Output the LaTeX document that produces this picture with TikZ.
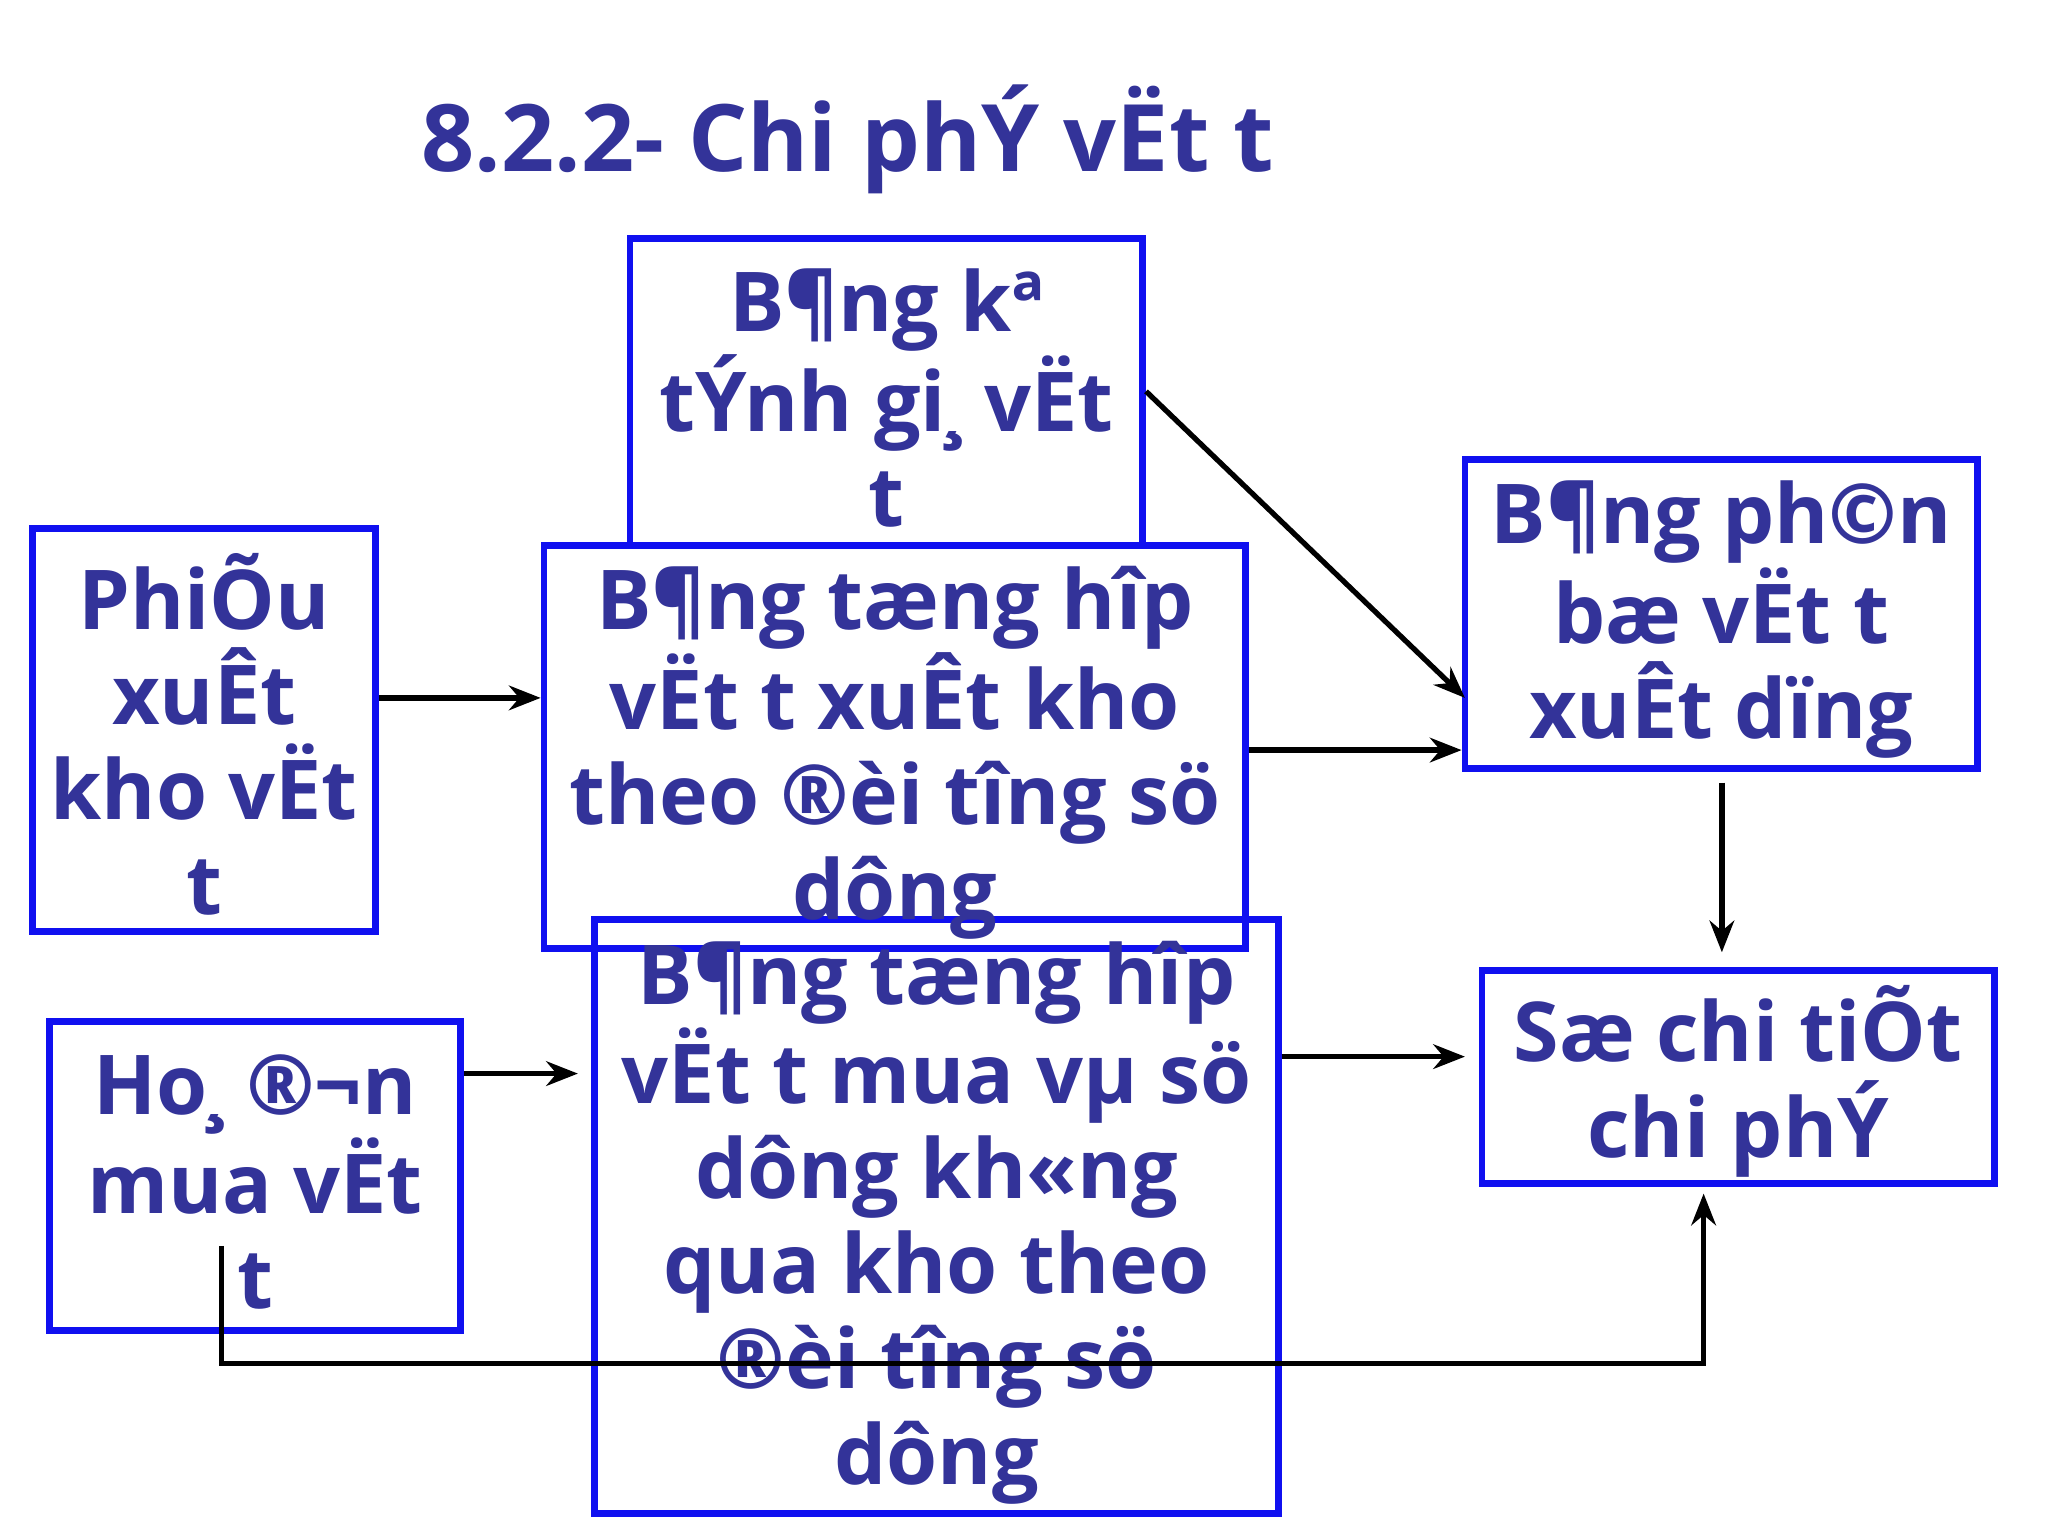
\documentclass[tikz,border=0pt]{standalone}
\usepackage{fontspec}
\setmainfont{Open Sans}
\usetikzlibrary{arrows.meta}
\definecolor{txt}{HTML}{333399}
\definecolor{bx}{HTML}{1010F0}
\begin{document}
\begin{tikzpicture}[x=0.013045cm,y=-0.013045cm,
  boxs/.style={draw=bx,line width=1.9pt,inner sep=0,minimum width=#1},
  tx/.style={text=txt,font=\bfseries\fontsize{23.5}{27.1}\selectfont,align=center,inner sep=0},
  arr/.style={line width=1.5pt,-{Stealth[length=9pt,width=7pt]}}]
\useasboundingbox (0,0) rectangle (1570,1177.5);
\node[text=txt,font=\bfseries\fontsize{26.5}{30}\selectfont] (title) at (650,107) {8.2.2- Chi phÝ vËt t};
% boxes
\node[boxs=393*0.013045cm,minimum height=235*0.013045cm] (top) at (679.5,300.5) {};
\node[boxs=263*0.013045cm,minimum height=309*0.013045cm] (phieu) at (156.5,559.5) {};
\node[boxs=538*0.013045cm,minimum height=309*0.013045cm] (b1) at (686,572.5) {};
\node[boxs=393*0.013045cm,minimum height=237*0.013045cm] (pb) at (1319.5,470.5) {};
\node[boxs=315*0.013045cm,minimum height=237*0.013045cm] (hd) at (195.5,901.5) {};
\node[boxs=524*0.013045cm,minimum height=455*0.013045cm] (b2) at (718,932.5) {};
\node[boxs=393*0.013045cm,minimum height=163*0.013045cm] (so) at (1332.5,825.5) {};
% texts
\node[tx] (ttop) at (679.5,305) {B¶ng kª\\tÝnh gi¸ vËt\\t};
\node[tx] (tphieu) at (156.5,563) {PhiÕu\\xuÊt\\kho vËt\\t};
\node[tx] (tb1) at (686,577) {B¶ng tæng hîp\\vËt t xuÊt kho\\theo ®èi t­îng sö\\dông};
\node[tx] (tpb) at (1319.5,475) {B¶ng ph©n\\bæ vËt t\\xuÊt dïng};
\node[tx] (thd) at (195.5,906) {Ho¸ ®¬n\\mua vËt\\t};
\node[tx] (tb2) at (718,937) {B¶ng tæng hîp\\vËt t mua vµ sö\\dông kh«ng\\qua kho theo\\®èi t­îng sö\\dông};
\node[tx] (tso) at (1332.5,829) {Sæ chi tiÕt\\chi phÝ};
% connectors
\coordinate (c1) at (1123,535);
\coordinate (c2) at (443,823);
\coordinate (c3) at (1123,810);
\coordinate (c4) at (1320,600);
\coordinate (c5) at (1320,730);
\coordinate (d1) at (170,955);
\coordinate (d2) at (1306,915);
\draw[arr] (phieu.east |- 0,535) -- (b1.west |- 0,535);
\draw[arr] (top.east |- 0,300) -- (c1);
\draw[arr] (b1.east |- 0,575) -- (pb.west |- 0,575);
\draw[arr] (c4) -- (c5);
\draw[arr] (hd.east |- 0,823) -- (c2);
\draw[arr] (b2.east |- 0,810) -- (c3);
\draw[arr] (d1) -- (170,1045) -- (1306,1045) -- (d2);
\end{tikzpicture}
\end{document}
